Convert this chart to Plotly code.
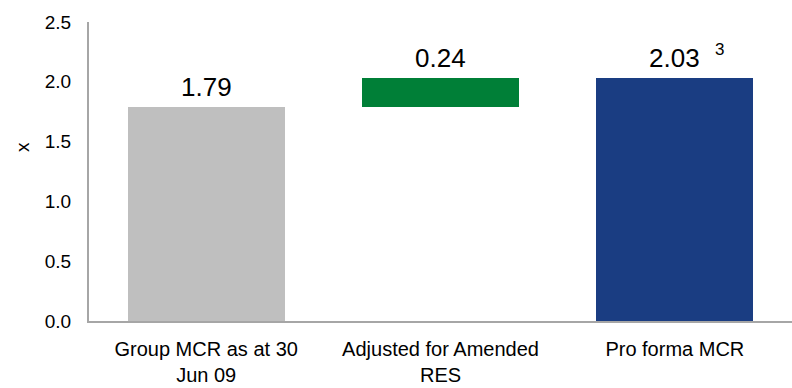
import plotly.graph_objects as go

categories = ["Group MCR as at 30<br>Jun 09", "Adjusted for Amended<br>RES", "Pro forma MCR"]
values = [1.79, 0.24, 2.03]
bases = [0, 1.79, 0]
colors = ["#bfbfbf", "#007f37", "#1a3d82"]
labels = ["1.79", "0.24", "2.03"]
footnote = "3"
y_ticks = [0.0, 0.5, 1.0, 1.5, 2.0, 2.5]
y_title = "x"

FONT = "Liberation Sans, Arial"

fig = go.Figure()
fig.add_trace(go.Bar(
    x=list(range(len(categories))), y=values, base=bases,
    marker=dict(color=colors, line=dict(width=0)),
    width=0.67, hoverinfo="skip",
))

# value labels above each bar
for i, (v, b, t) in enumerate(zip(values, bases, labels)):
    fig.add_annotation(x=i, y=v + b, text=t, showarrow=False,
                       yanchor="bottom", yshift=3,
                       font=dict(family=FONT, size=26, color="#000"))

# footnote marker next to the final total
fig.add_annotation(x=2, y=values[2], text=footnote, showarrow=False,
                   yanchor="middle", yshift=29, xshift=45,
                   font=dict(family=FONT, size=17, color="#000"))

# y-axis caption, sitting a little above the middle of the axis
fig.add_annotation(xref="paper", yref="paper", x=-67 / 703, y=174 / 299,
                   text=y_title, showarrow=False, textangle=-90,
                   xanchor="center", yanchor="middle",
                   font=dict(family=FONT, size=19, color="#000"))

fig.update_layout(
    width=792, height=388,
    margin=dict(l=89, r=0, t=22, b=67),
    plot_bgcolor="white", paper_bgcolor="white",
    showlegend=False, bargap=0,
    xaxis=dict(range=[-0.5, 2.5], tickvals=list(range(len(categories))), ticktext=categories,
               showline=True, linecolor="#a6a6a6", linewidth=2, ticks="",
               showgrid=False, zeroline=False, ticklabelstandoff=9,
               tickfont=dict(family=FONT, size=20, color="#000")),
    yaxis=dict(range=[0, 2.5], tickvals=y_ticks, ticktext=[f"{t:.1f}" for t in y_ticks],
               showline=True, linecolor="#a6a6a6", linewidth=2, ticks="",
               showgrid=False, zeroline=False, ticklabelstandoff=12,
               tickfont=dict(family=FONT, size=19, color="#000")),
)

fig.write_html("out.html")
